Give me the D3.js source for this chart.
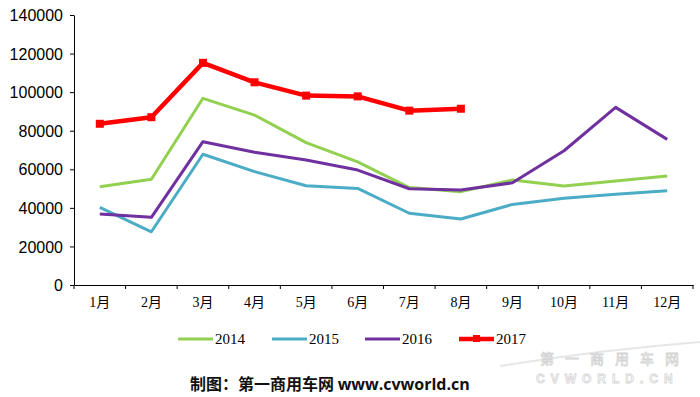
<!DOCTYPE html>
<html>
<head>
<meta charset="utf-8">
<script src="https://cdn.jsdelivr.net/npm/d3@7"></script>
<style>
    body { margin: 0; background: #fff; }
    svg { display: block; }
    .axis path, .axis line { stroke: #000; }
    .y.axis text { font-family: "Liberation Sans", Arial, sans-serif; font-size: 16px; fill: #000; }
    .x.axis text { font-family: "Liberation Serif", "Noto Sans CJK SC", serif; font-size: 14px; fill: #000; }
    .legend text { font-family: "Liberation Serif", serif; font-size: 15px; fill: #000; }
</style>
</head>
<body>
<div id="chart"></div>
<script>
const months = ['1月', '2月', '3月', '4月', '5月', '6月', '7月', '8月', '9月', '10月', '11月', '12月'];
const yTicks = [0, 20000, 40000, 60000, 80000, 100000, 120000, 140000];

const sales2014 = [51000, 54800, 96800, 88100, 73800, 63800, 50500, 48400, 54400, 51300, 53900, 56500];
const sales2015 = [40300, 27600, 67800, 58800, 51500, 50100, 37200, 34200, 41800, 45000, 47000, 48900];
const sales2016 = [36800, 35100, 74300, 68800, 64800, 59600, 49900, 49300, 53000, 69600, 92100, 75500];
const sales2017 = [83600, 87000, 115200, 105100, 98200, 97800, 90400, 91400];

const series = [
    { name: '2014', values: sales2014, color: '#92d050', width: 3, marker: false },
    { name: '2015', values: sales2015, color: '#4bacc6', width: 3, marker: false },
    { name: '2016', values: sales2016, color: '#7030a0', width: 3, marker: false },
    { name: '2017', values: sales2017, color: '#ff0000', width: 4.5, marker: true },
];

const width = 700;
const height = 397;
const margin = { top: 15, left: 74, right: 7, bottom: 112 };

const svg = d3.select('#chart')
    .append('svg')
    .attr('width', width)
    .attr('height', height);

const x = d3.scaleBand()
    .domain(months)
    .range([margin.left, width - margin.right]);

const y = d3.scaleLinear()
    .domain([0, 140000])
    .range([height - margin.bottom, margin.top]);

// y axis
svg.append('g')
    .attr('class', 'y axis')
    .attr('transform', `translate(${margin.left},0)`)
    .call(d3.axisLeft(y).tickValues(yTicks).tickFormat(d3.format('d')).tickSize(4).tickPadding(7).tickSizeOuter(0))
    .call(g => g.selectAll('text').attr('dy', '0.35em'));

// x axis, ticks between categories
const xAxis = svg.append('g')
    .attr('class', 'x axis')
    .attr('transform', `translate(0,${y(0)})`)
    .call(d3.axisBottom(x).tickSize(0).tickPadding(12).tickSizeOuter(0));

xAxis.selectAll('.boundary')
    .data(months.concat(['end']))
    .enter()
    .append('line')
    .attr('class', 'boundary')
    .attr('x1', (d, i) => margin.left + i * x.bandwidth())
    .attr('x2', (d, i) => margin.left + i * x.bandwidth())
    .attr('y1', 0)
    .attr('y2', 4)
    .attr('stroke', '#000');

const line = d3.line()
    .x((d, i) => x(months[i]) + x.bandwidth() / 2)
    .y(d => y(d));

series.forEach(s => {
    svg.append('path')
        .datum(s.values)
        .attr('fill', 'none')
        .attr('stroke', s.color)
        .attr('stroke-width', s.width)
        .attr('stroke-linejoin', 'round')
        .attr('d', line);

    if (s.marker) {
        svg.selectAll('.marker')
            .data(s.values)
            .enter()
            .append('rect')
            .attr('class', 'marker')
            .attr('x', (d, i) => x(months[i]) + x.bandwidth() / 2 - 4)
            .attr('y', d => y(d) - 4)
            .attr('width', 8)
            .attr('height', 8)
            .attr('fill', s.color);
    }
});

// legend
const legendX = [178, 272, 365, 459];
const legend = svg.append('g')
    .attr('class', 'legend')
    .attr('transform', 'translate(0,339)');

series.forEach((s, i) => {
    const g = legend.append('g').attr('transform', `translate(${legendX[i]},0)`);
    g.append('line')
        .attr('x1', 0)
        .attr('x2', 35)
        .attr('stroke', s.color)
        .attr('stroke-width', s.width);
    if (s.marker) {
        g.append('rect')
            .attr('x', 14)
            .attr('y', -4)
            .attr('width', 7)
            .attr('height', 7)
            .attr('fill', s.color);
    }
    g.append('text')
        .attr('x', 37)
        .attr('dy', '0.35em')
        .text(s.name);
});

// watermark
const wm = svg.append('g').attr('fill', '#fff').attr('stroke', '#d4d4d4').attr('stroke-width', 0.8);
wm.append('path')
    .attr('d', 'M500,366 Q600,350 700,342')
    .attr('fill', 'none')
    .attr('stroke', '#e6e6e6')
    .attr('stroke-width', 2);
wm.append('text')
    .attr('x', 540)
    .attr('y', 364)
    .attr('font-family', '"Noto Sans CJK SC", sans-serif')
    .attr('font-size', 14)
    .attr('letter-spacing', 11)
    .text('第一商用车网');
wm.append('text')
    .attr('x', 536)
    .attr('y', 383)
    .attr('font-family', '"Liberation Sans", sans-serif')
    .attr('font-weight', 'bold')
    .attr('font-size', 12)
    .attr('letter-spacing', 6)
    .text('CVWORLD.CN');

// credit line
svg.append('text')
    .attr('x', 190)
    .attr('y', 390)
    .attr('font-weight', 'bold')
    .attr('font-size', 16)
    .attr('fill', '#111')
    .call(t => {
        t.append('tspan')
            .attr('font-family', '"Noto Sans CJK SC", sans-serif')
            .text('制图：第一商用车网 ');
        t.append('tspan')
            .attr('font-family', '"Open Sans", "Liberation Sans", sans-serif')
            .text('www.cvworld.cn');
    });
</script>
</body>
</html>
